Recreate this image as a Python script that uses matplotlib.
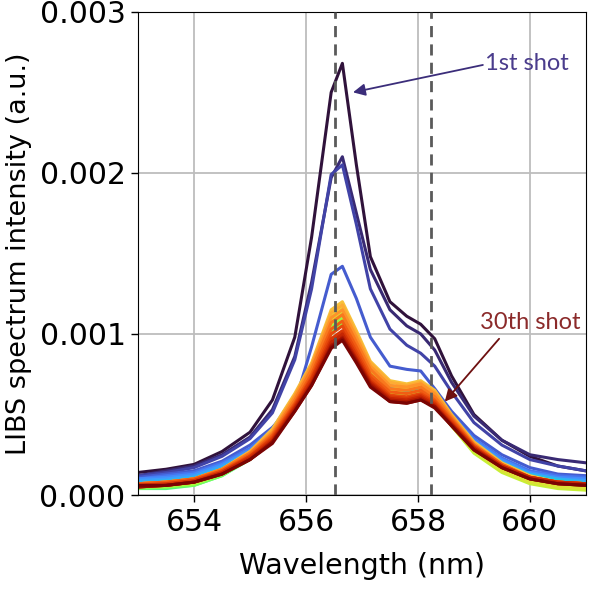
import matplotlib.pyplot as plt
import numpy as np

# Wavelength samples (nm)
wavelength = [653.0, 653.5, 654.0, 654.5, 655.0, 655.4, 655.8, 656.1, 656.45, 656.65,
              656.9, 657.15, 657.5, 657.8, 658.05, 658.3, 658.6, 659.0, 659.5, 660.0,
              660.5, 661.0]

# LIBS intensities for each shot, in units of 1e-3 (a.u.)
s01 = [0.14, 0.16, 0.19, 0.27, 0.39, 0.59, 0.98, 1.60, 2.50, 2.68, 2.05, 1.48, 1.20, 1.11, 1.06, 0.97, 0.74, 0.50, 0.34, 0.24, 0.18, 0.15]
s02 = [0.12, 0.15, 0.18, 0.25, 0.36, 0.53, 0.86, 1.32, 1.97, 2.10, 1.75, 1.40, 1.15, 1.05, 1.00, 0.90, 0.70, 0.49, 0.34, 0.25, 0.22, 0.20]
s03 = [0.12, 0.14, 0.17, 0.24, 0.35, 0.51, 0.84, 1.28, 1.99, 2.05, 1.68, 1.28, 1.03, 0.93, 0.88, 0.80, 0.64, 0.45, 0.31, 0.22, 0.18, 0.15]
s04 = [0.11, 0.13, 0.15, 0.21, 0.31, 0.42, 0.57, 0.92, 1.37, 1.42, 1.22, 0.98, 0.80, 0.78, 0.77, 0.66, 0.52, 0.37, 0.25, 0.17, 0.13, 0.12]
s05 = [0.10, 0.12, 0.14, 0.20, 0.29, 0.41, 0.62, 0.81, 1.10, 1.16, 0.99, 0.80, 0.68, 0.66, 0.68, 0.62, 0.50, 0.35, 0.23, 0.15, 0.12, 0.11]
s06 = [0.10, 0.11, 0.13, 0.19, 0.28, 0.40, 0.61, 0.79, 1.08, 1.14, 0.97, 0.79, 0.67, 0.66, 0.68, 0.62, 0.49, 0.34, 0.22, 0.14, 0.11, 0.10]
s07 = [0.09, 0.10, 0.12, 0.18, 0.27, 0.39, 0.60, 0.78, 1.07, 1.13, 0.96, 0.78, 0.66, 0.65, 0.67, 0.61, 0.48, 0.33, 0.21, 0.13, 0.10, 0.09]
s08 = [0.08, 0.09, 0.11, 0.17, 0.27, 0.39, 0.60, 0.79, 1.09, 1.15, 0.97, 0.78, 0.66, 0.65, 0.67, 0.61, 0.48, 0.32, 0.20, 0.13, 0.10, 0.08]
s09 = [0.07, 0.08, 0.10, 0.16, 0.26, 0.38, 0.59, 0.77, 1.06, 1.12, 0.95, 0.77, 0.65, 0.64, 0.66, 0.60, 0.47, 0.31, 0.19, 0.12, 0.09, 0.07]
s10 = [0.06, 0.07, 0.09, 0.15, 0.25, 0.37, 0.58, 0.76, 1.04, 1.10, 0.94, 0.76, 0.64, 0.63, 0.65, 0.59, 0.46, 0.30, 0.18, 0.11, 0.08, 0.06]
s11 = [0.05, 0.06, 0.08, 0.14, 0.24, 0.36, 0.57, 0.75, 1.03, 1.09, 0.93, 0.75, 0.63, 0.62, 0.64, 0.58, 0.45, 0.30, 0.18, 0.10, 0.07, 0.05]
s12 = [0.04, 0.05, 0.07, 0.13, 0.23, 0.35, 0.56, 0.74, 1.01, 1.07, 0.91, 0.73, 0.62, 0.61, 0.63, 0.57, 0.44, 0.29, 0.17, 0.10, 0.06, 0.05]
s13 = [0.04, 0.04, 0.06, 0.12, 0.22, 0.35, 0.56, 0.74, 1.02, 1.08, 0.92, 0.74, 0.62, 0.61, 0.63, 0.57, 0.44, 0.28, 0.16, 0.09, 0.06, 0.04]
s14 = [0.04, 0.05, 0.06, 0.12, 0.23, 0.36, 0.57, 0.76, 1.05, 1.11, 0.94, 0.76, 0.64, 0.62, 0.64, 0.58, 0.45, 0.29, 0.17, 0.09, 0.06, 0.05]
s15 = [0.05, 0.05, 0.07, 0.13, 0.23, 0.35, 0.55, 0.73, 1.00, 1.06, 0.90, 0.72, 0.61, 0.60, 0.62, 0.56, 0.43, 0.27, 0.15, 0.08, 0.05, 0.04]
s16 = [0.05, 0.06, 0.07, 0.13, 0.24, 0.36, 0.57, 0.75, 1.03, 1.09, 0.92, 0.74, 0.62, 0.61, 0.63, 0.57, 0.43, 0.27, 0.15, 0.08, 0.05, 0.04]
s17 = [0.06, 0.06, 0.08, 0.14, 0.24, 0.37, 0.58, 0.77, 1.06, 1.12, 0.95, 0.76, 0.63, 0.61, 0.63, 0.57, 0.43, 0.26, 0.14, 0.07, 0.04, 0.03]
s18 = [0.06, 0.07, 0.09, 0.15, 0.25, 0.38, 0.59, 0.78, 1.08, 1.14, 0.97, 0.78, 0.65, 0.63, 0.65, 0.59, 0.45, 0.28, 0.15, 0.08, 0.05, 0.04]
s19 = [0.07, 0.07, 0.09, 0.15, 0.26, 0.39, 0.61, 0.80, 1.11, 1.17, 0.99, 0.80, 0.68, 0.66, 0.68, 0.62, 0.48, 0.31, 0.18, 0.10, 0.07, 0.06]
s20 = [0.07, 0.08, 0.10, 0.16, 0.27, 0.41, 0.63, 0.82, 1.15, 1.20, 1.02, 0.83, 0.71, 0.69, 0.71, 0.65, 0.50, 0.33, 0.20, 0.12, 0.08, 0.07]
s21 = [0.07, 0.08, 0.10, 0.16, 0.27, 0.40, 0.62, 0.81, 1.13, 1.18, 1.00, 0.82, 0.70, 0.68, 0.70, 0.64, 0.49, 0.32, 0.19, 0.11, 0.08, 0.07]
s22 = [0.07, 0.08, 0.10, 0.16, 0.26, 0.39, 0.61, 0.80, 1.10, 1.15, 0.98, 0.80, 0.68, 0.67, 0.69, 0.63, 0.49, 0.32, 0.19, 0.11, 0.08, 0.07]
s23 = [0.07, 0.08, 0.10, 0.16, 0.26, 0.38, 0.59, 0.78, 1.07, 1.12, 0.95, 0.78, 0.66, 0.65, 0.67, 0.61, 0.48, 0.31, 0.19, 0.11, 0.08, 0.07]
s24 = [0.07, 0.08, 0.10, 0.15, 0.25, 0.37, 0.57, 0.75, 1.03, 1.08, 0.92, 0.75, 0.64, 0.63, 0.65, 0.59, 0.47, 0.31, 0.19, 0.11, 0.08, 0.07]
s25 = [0.06, 0.07, 0.09, 0.15, 0.24, 0.36, 0.56, 0.73, 1.00, 1.05, 0.89, 0.73, 0.62, 0.61, 0.63, 0.58, 0.46, 0.30, 0.18, 0.11, 0.08, 0.07]
s26 = [0.06, 0.07, 0.09, 0.14, 0.24, 0.35, 0.55, 0.72, 0.97, 1.02, 0.87, 0.71, 0.61, 0.60, 0.62, 0.57, 0.45, 0.30, 0.18, 0.11, 0.08, 0.07]
s27 = [0.05, 0.06, 0.08, 0.14, 0.23, 0.34, 0.54, 0.70, 0.95, 1.00, 0.85, 0.70, 0.60, 0.59, 0.61, 0.56, 0.44, 0.29, 0.18, 0.11, 0.08, 0.07]
s28 = [0.05, 0.06, 0.08, 0.13, 0.22, 0.33, 0.53, 0.69, 0.93, 0.98, 0.84, 0.69, 0.59, 0.58, 0.60, 0.55, 0.44, 0.29, 0.17, 0.10, 0.07, 0.06]
s29 = [0.05, 0.06, 0.08, 0.13, 0.22, 0.33, 0.52, 0.68, 0.92, 0.97, 0.83, 0.68, 0.58, 0.57, 0.59, 0.55, 0.43, 0.28, 0.17, 0.10, 0.07, 0.06]
s30 = [0.06, 0.06, 0.08, 0.13, 0.22, 0.32, 0.52, 0.68, 0.91, 0.96, 0.82, 0.67, 0.58, 0.57, 0.59, 0.54, 0.43, 0.28, 0.17, 0.10, 0.07, 0.06]

spectra = [s01, s02, s03, s04, s05, s06, s07, s08, s09, s10,
           s11, s12, s13, s14, s15, s16, s17, s18, s19, s20,
           s21, s22, s23, s24, s25, s26, s27, s28, s29, s30]

line_positions = [656.52, 658.23]

tick_font = "DejaVu Sans"
label_font = "DejaVu Sans"
note_font = "Lato"

fig = plt.figure(figsize=(5.9, 5.9), dpi=100)
ax = fig.add_axes([0.234, 0.161, 0.759, 0.819])

wl = np.array(wavelength)
colors = plt.cm.turbo(np.linspace(0, 1, len(spectra)))
for i, s in enumerate(spectra):
    ax.plot(wl, np.array(s) * 1e-3, color=colors[i], lw=2.2, zorder=2 + i * 0.01)

for xv in line_positions:
    ax.axvline(xv, color="#5a5a5a", ls=(0, (4, 2.6)), lw=2, zorder=3)

ax.set_xlim(653, 661)
ax.set_ylim(0, 0.003)
ax.set_xticks([654, 656, 658, 660])
ax.set_yticks([0, 0.001, 0.002, 0.003])
ax.set_yticklabels(["0.000", "0.001", "0.002", "0.003"])
ax.grid(True, color="#bdbdbd", lw=1.3, zorder=0)
ax.set_axisbelow(True)
ax.tick_params(labelsize=21.5, length=5, width=1, direction="out", pad=4)
for lab in ax.get_xticklabels() + ax.get_yticklabels():
    lab.set_family(tick_font)

ax.set_xlabel("Wavelength (nm)", fontsize=20.5, family=label_font, labelpad=11)
ax.set_ylabel("LIBS spectrum intensity (a.u.)", fontsize=19.5, family=label_font, labelpad=5)

# annotations: text and arrow placed separately
ax.text(659.2, 0.00268, "1st shot", fontsize=17, family=note_font,
        color="#4a3c8c", va="center", ha="left", zorder=5)
ax.annotate("", xy=(656.84, 0.00250), xytext=(659.16, 0.00267),
            arrowprops=dict(arrowstyle="-|>", color="#3b2d7a", lw=1.3,
                            mutation_scale=18, shrinkA=0, shrinkB=0), zorder=5)
ax.text(659.1, 0.00107, "30th shot", fontsize=17, family=note_font,
        color="#8b2a2a", va="center", ha="left", zorder=5)
ax.annotate("", xy=(658.48, 0.00058), xytext=(659.45, 0.00097),
            arrowprops=dict(arrowstyle="-|>", color="#6e1010", lw=1.3,
                            mutation_scale=18, shrinkA=0, shrinkB=0), zorder=5)

fig.savefig("out.png", dpi=100)
